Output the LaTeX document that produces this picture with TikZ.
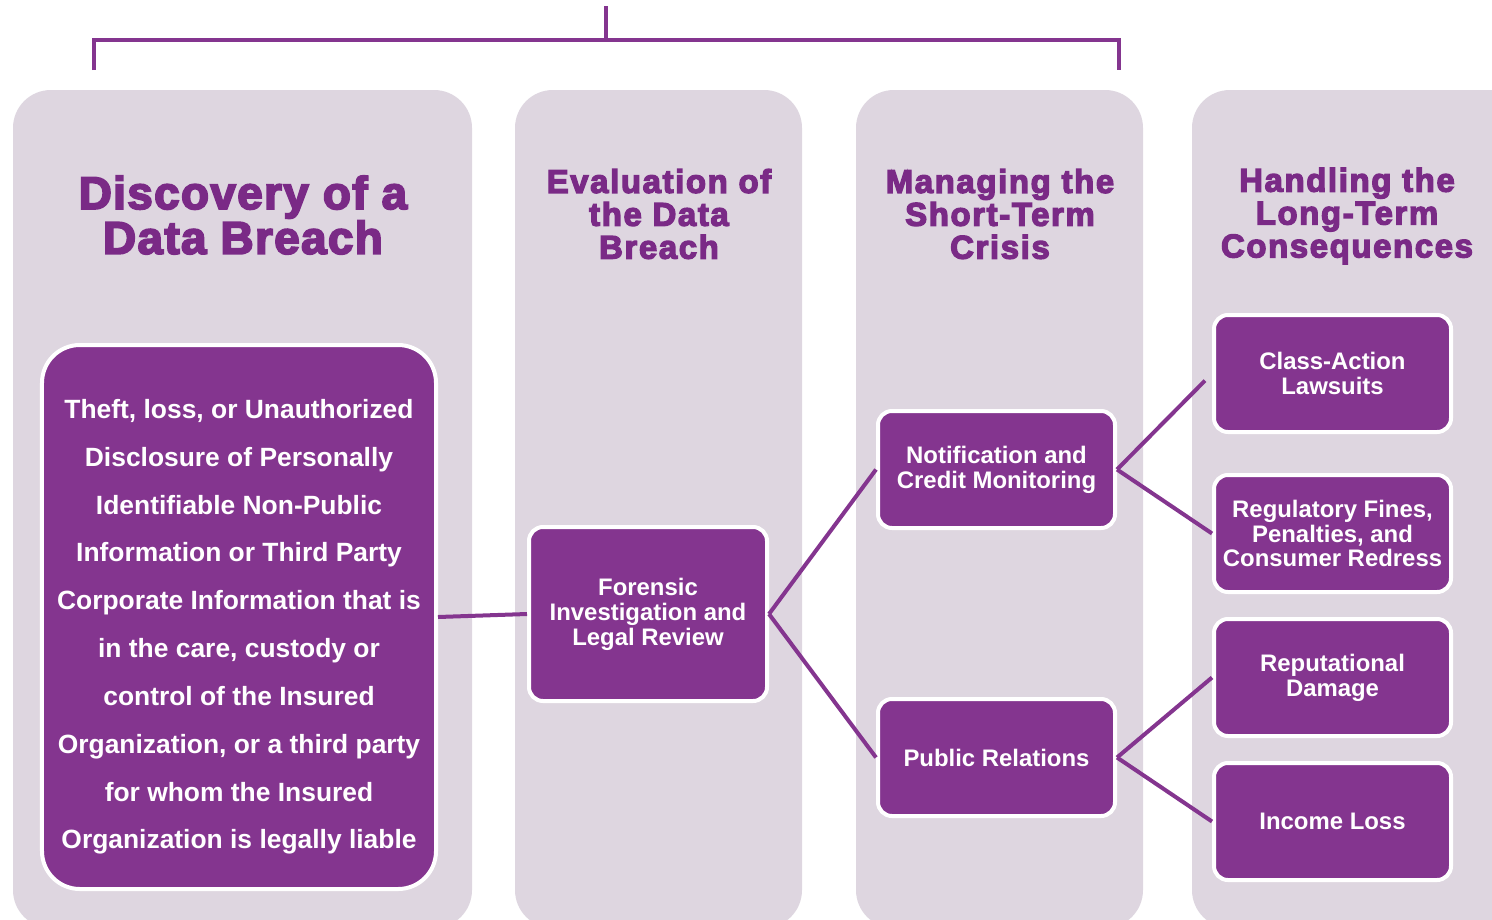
\documentclass[tikz,border=0pt]{standalone}
\usepackage{fontspec}
\setmainfont{Liberation Sans}
\usetikzlibrary{positioning}

\definecolor{plum}{HTML}{84358F}
\definecolor{plumdark}{HTML}{7A2A86}
\definecolor{lilac}{HTML}{DED6E0}

\tikzset{
	phase/.style={fill=lilac, rounded corners=38},
	heading/.style={text=plumdark, align=center, inner sep=0pt},
	stagebox/.style={draw=white, line width=4bp, fill=plum, rounded corners=14,
		text=white, align=center, inner sep=0pt,
		minimum width=237bp, minimum height=117bp,
		font=\bfseries\fontsize{24}{25}\selectfont},
	link/.style={draw=plum, line width=4bp}
}

\begin{document}
\begin{tikzpicture}[x=1bp, y=-1bp]
		\useasboundingbox (0,0) rectangle (1492,919);
		% the four phase columns
		\begin{scope}
			\clip (0,0) rectangle (1492,919);
			\fill[phase] (13,90) rectangle (472,928);
			\fill[phase] (515,90) rectangle (802,928);
			\fill[phase] (856,90) rectangle (1143,928);
			\fill[phase] (1192,90) rectangle (1540,928);
		\end{scope}
		% bracket over the first three phases
		\coordinate (stem) at (606,6);
		\coordinate (joint) at (606,40);
		\coordinate (bl) at (94,70);
		\coordinate (br) at (1119,70);
		\draw[link] (stem) -- (joint);
		\draw[link] (bl) |- (joint) -| (br);
		% phase headings
		\node[heading, font=\bfseries\fontsize{46}{45}\selectfont\addfontfeature{LetterSpace=3,FakeBold=4}] (h1) at (243,215) {Discovery of a\\Data Breach};
		\node[heading, font=\bfseries\fontsize{33}{33}\selectfont\addfontfeature{LetterSpace=5,FakeBold=4}] (h2) at (659,214) {Evaluation of\\the Data\\Breach};
		\node[heading, font=\bfseries\fontsize{33}{33}\selectfont\addfontfeature{LetterSpace=5,FakeBold=4}] (h3) at (1000,214) {Managing the\\Short-Term\\Crisis};
		\node[heading, font=\bfseries\fontsize{33}{33}\selectfont\addfontfeature{LetterSpace=5,FakeBold=4}] (h4) at (1347,216) {Handling the\\Long-Term\\Consequences};
		% stages
		\node[stagebox, rounded corners=38, minimum width=394bp, minimum height=544bp,
			font=\bfseries\fontsize{26.5}{48}\selectfont] (theft) at (239,617)
			{\rule{0pt}{39bp}Theft, loss, or Unauthorized\\Disclosure of Personally\\Identifiable Non-Public\\Information or Third Party\\Corporate Information that is\\in the care, custody or\\control of the Insured\\Organization, or a third party\\for whom the Insured\\Organization is legally liable};
		\node[stagebox, minimum width=238bp, minimum height=174bp] (forensic) at (648,614) {Forensic\\Investigation and\\Legal Review};
		\node[stagebox] (notify) at (996.5,469.5) {Notification and\\Credit Monitoring};
		\node[stagebox] (pr) at (996.5,757.5) {Public Relations};
		\node[stagebox] (lawsuit) at (1332.5,373.5) {Class-Action\\Lawsuits};
		\node[stagebox] (fines) at (1332.5,533.5) {Regulatory Fines,\\Penalties, and\\Consumer Redress};
		\node[stagebox] (reput) at (1332.5,677.5) {Reputational\\Damage};
		\node[stagebox] (income) at (1332.5,821.5) {Income Loss};
		% connectors
		\draw[link] (theft.east) -- (forensic.west);
		\draw[link] (forensic.east) -- (notify.west);
		\draw[link] (forensic.east) -- (pr.west);
		\draw[link, shorten >=10bp] (notify.east) -- (lawsuit.west);
		\draw[link] (notify.east) -- (fines.west);
		\draw[link] (pr.east) -- (reput.west);
		\draw[link] (pr.east) -- (income.west);
	\end{tikzpicture}
\end{document}
